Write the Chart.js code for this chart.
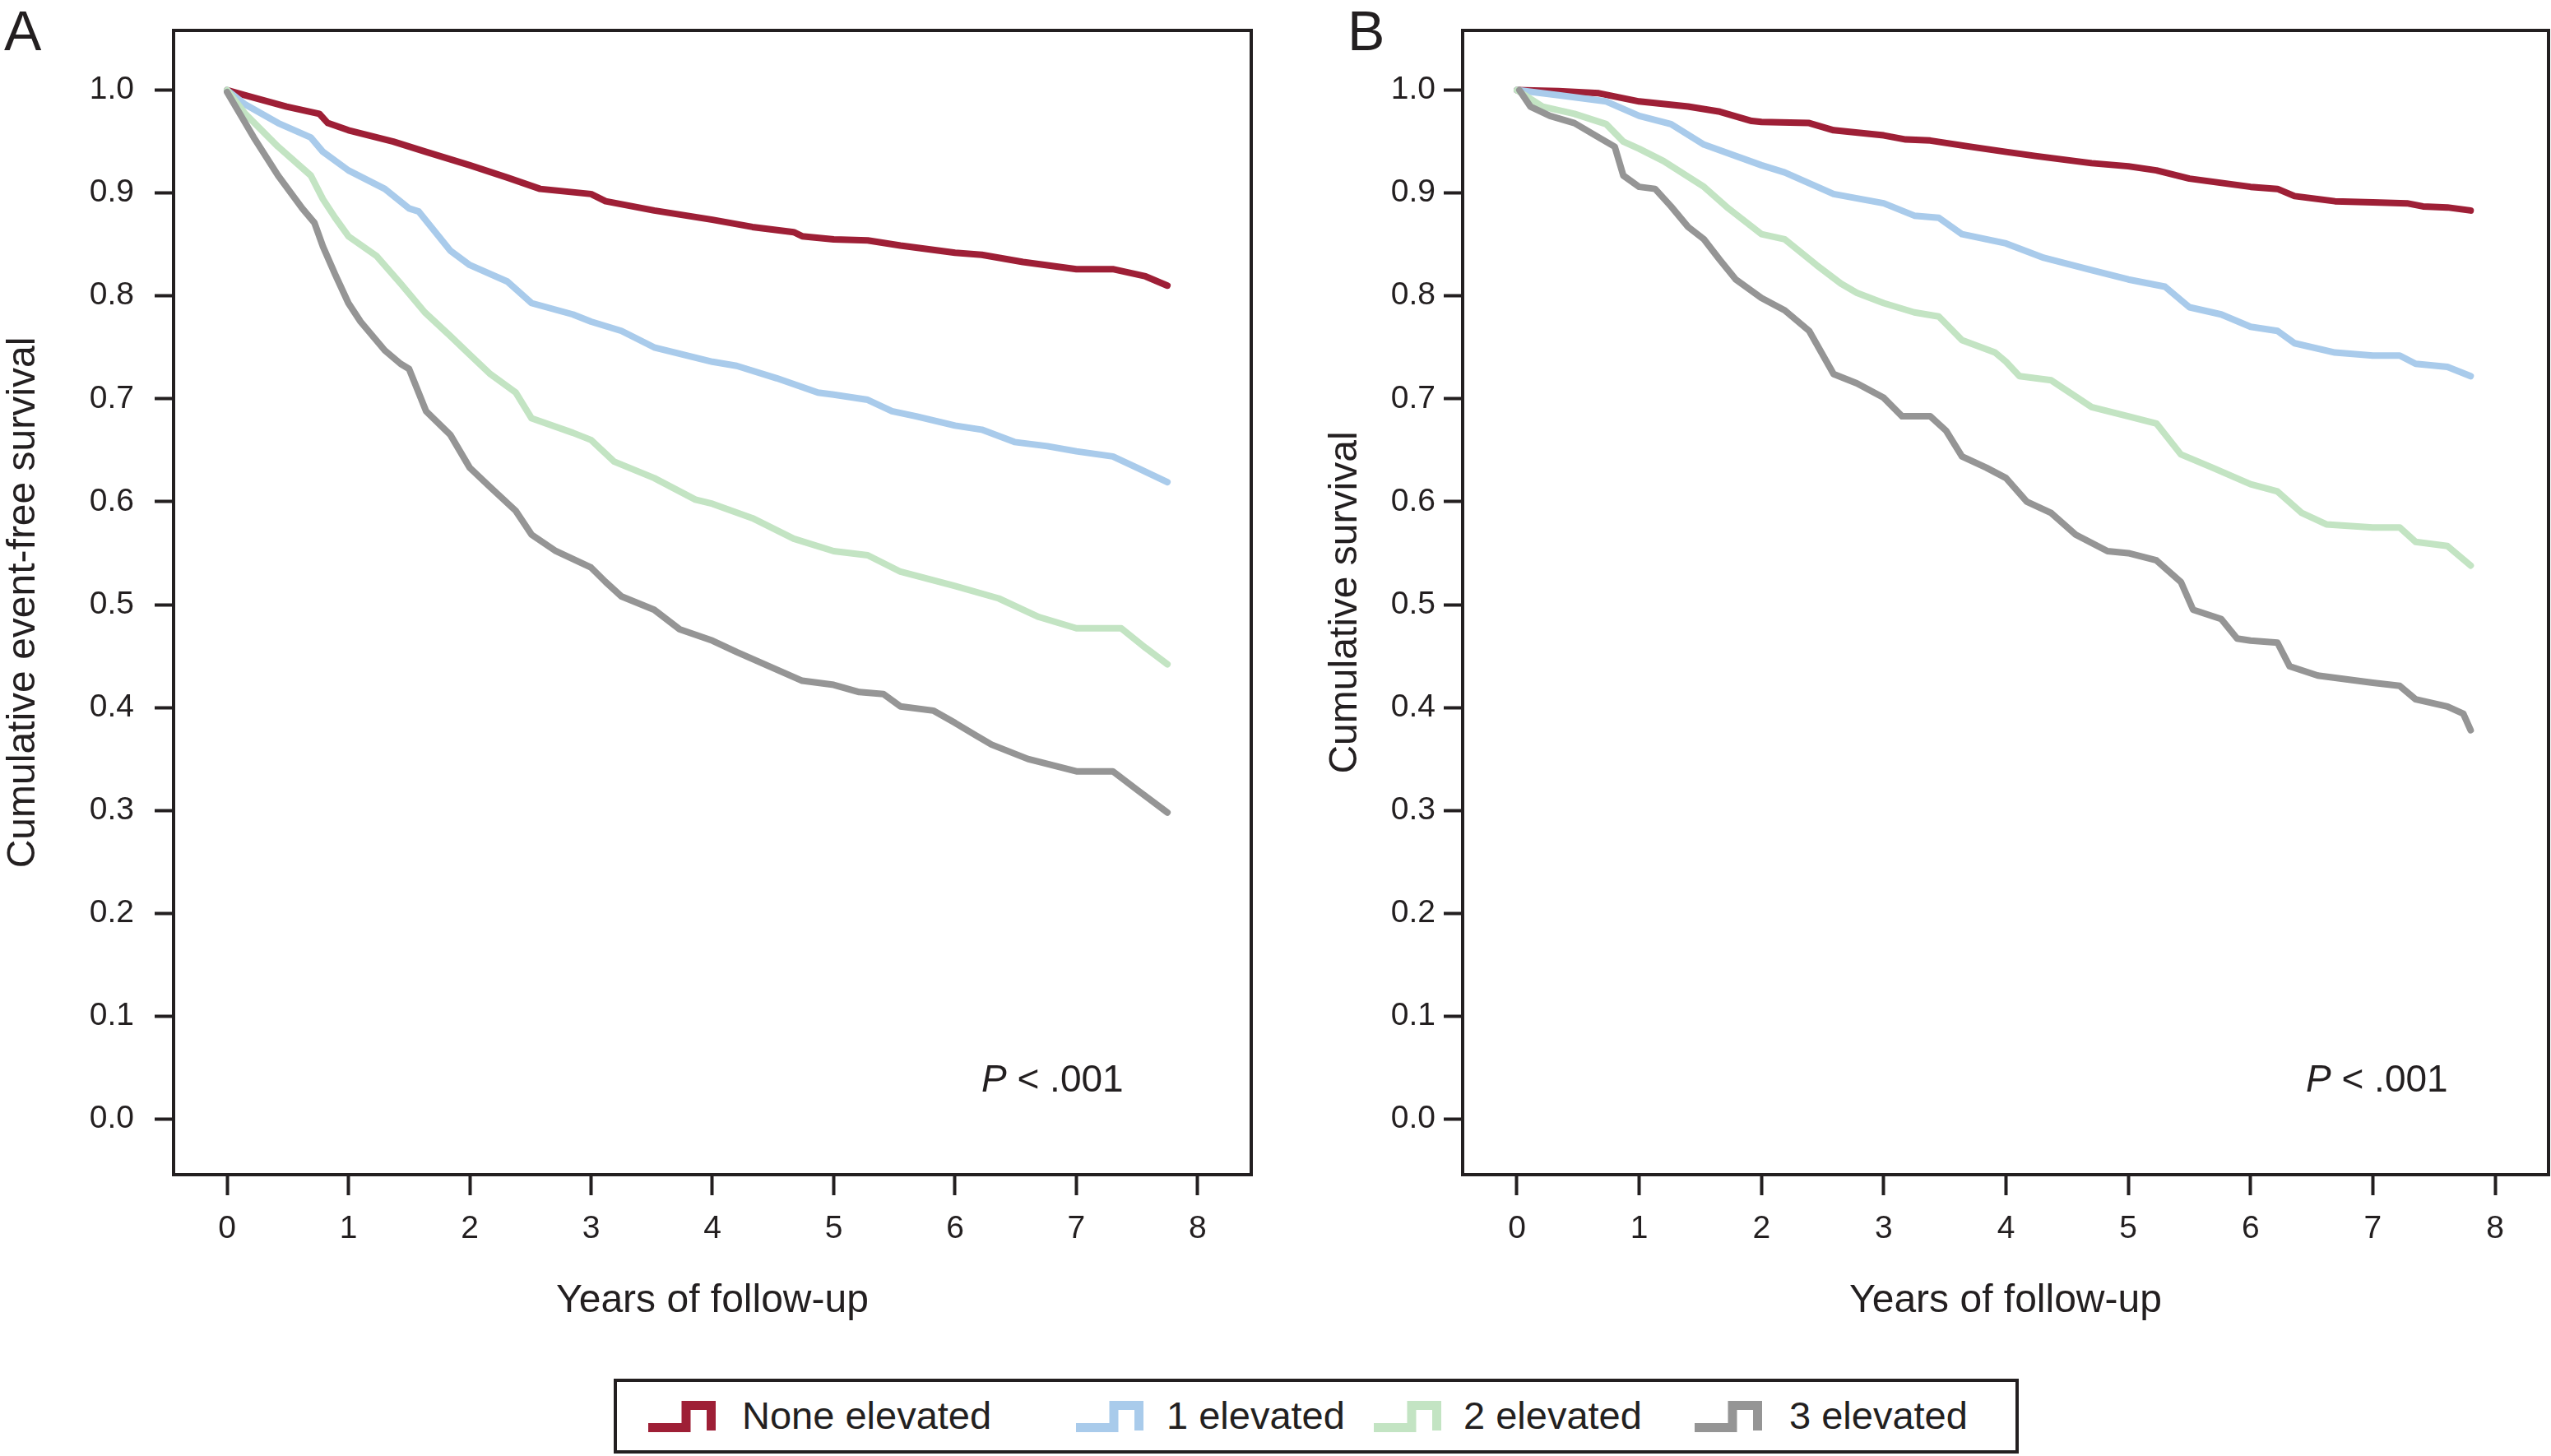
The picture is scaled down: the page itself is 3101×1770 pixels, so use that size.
<!DOCTYPE html>
<html>
<head>
<meta charset="utf-8">
<script src="https://cdn.jsdelivr.net/npm/chart.js@4.4.1/dist/chart.umd.min.js"></script>
<style>
  body { margin: 0; background: #fff; }
  #wrap { position: relative; width: 3101px; height: 1770px; font-family: "Liberation Sans", Arial, sans-serif; color: #231f20; }
  canvas { position: absolute; top: 0; }
  #legend { position: absolute; left: 746px; top: 1676px; width: 1708px; height: 91px; border: 4px solid #231f20; box-sizing: border-box; }
  #legend .ico { position: absolute; top: 23px; width: 82px; height: 38px; }
  #legend .txt { position: absolute; top: 13px; font-size: 47px; line-height: 56px; white-space: nowrap; }
</style>
</head>
<body>
<div id="wrap">
  <canvas id="chartA" width="1550" height="1640" style="left:0"></canvas>
  <canvas id="chartB" width="1541" height="1640" style="left:1560px"></canvas>
  <div id="legend"></div>
</div>
<script>
/* global Chart */
const groups = ["None elevated", "1 elevated", "2 elevated", "3 elevated"];
const xTicks = [0, 1, 2, 3, 4, 5, 6, 7, 8];
const xTickLabels = ["0", "1", "2", "3", "4", "5", "6", "7", "8"];
const yTicks = [0, 0.1, 0.2, 0.3, 0.4, 0.5, 0.6, 0.7, 0.8, 0.9, 1.0];
const yTickLabels = ["0.0", "0.1", "0.2", "0.3", "0.4", "0.5", "0.6", "0.7", "0.8", "0.9", "1.0"];

// Panel A: cumulative event-free survival
const aNoneYears = [0, 0.15, 0.49, 0.76, 0.83, 1.0, 1.37, 1.64, 2.0, 2.31, 2.58, 3.0, 3.12, 3.52, 4.0, 4.33, 4.67, 4.74, 5.0, 5.28, 5.55, 6.0, 6.22, 6.56, 7.0, 7.3, 7.57, 7.75];
const aNoneSurv = [1.0, 0.995, 0.984, 0.977, 0.968, 0.961, 0.95, 0.94, 0.927, 0.915, 0.904, 0.899, 0.892, 0.883, 0.874, 0.867, 0.862, 0.858, 0.855, 0.854, 0.849, 0.842, 0.84, 0.833, 0.826, 0.826, 0.819, 0.81];
const aOneYears = [0, 0.15, 0.42, 0.69, 0.79, 1.0, 1.3, 1.5, 1.58, 1.84, 2.0, 2.31, 2.51, 2.85, 3.0, 3.25, 3.52, 4.0, 4.2, 4.53, 4.87, 5.0, 5.28, 5.48, 5.68, 6.0, 6.22, 6.49, 6.76, 7.0, 7.3, 7.5, 7.75];
const aOneSurv = [1.0, 0.986, 0.968, 0.954, 0.94, 0.922, 0.904, 0.885, 0.882, 0.844, 0.83, 0.814, 0.793, 0.782, 0.775, 0.766, 0.75, 0.736, 0.732, 0.72, 0.706, 0.704, 0.699, 0.688, 0.683, 0.674, 0.67, 0.658, 0.654, 0.649, 0.644, 0.633, 0.619];
const aTwoYears = [0, 0.15, 0.42, 0.69, 0.79, 0.89, 1.0, 1.23, 1.43, 1.63, 1.84, 2.0, 2.17, 2.38, 2.51, 2.85, 3.0, 3.19, 3.52, 3.86, 4.0, 4.33, 4.67, 5.0, 5.28, 5.55, 6.0, 6.36, 6.69, 7.0, 7.37, 7.57, 7.75];
const aTwoSurv = [1.0, 0.977, 0.945, 0.917, 0.894, 0.876, 0.858, 0.839, 0.812, 0.784, 0.761, 0.743, 0.724, 0.706, 0.681, 0.667, 0.66, 0.639, 0.623, 0.602, 0.598, 0.584, 0.564, 0.552, 0.548, 0.532, 0.518, 0.506, 0.488, 0.477, 0.477, 0.458, 0.442];
const aThreeYears = [0, 0.08, 0.22, 0.42, 0.62, 0.72, 0.79, 0.89, 1.0, 1.1, 1.3, 1.43, 1.5, 1.64, 1.84, 2.0, 2.17, 2.38, 2.51, 2.71, 3.0, 3.12, 3.25, 3.52, 3.73, 4.0, 4.2, 4.47, 4.74, 5.0, 5.21, 5.41, 5.55, 5.82, 6.0, 6.17, 6.3, 6.6, 7.0, 7.3, 7.5, 7.75];
const aThreeSurv = [0.998, 0.982, 0.954, 0.917, 0.885, 0.871, 0.848, 0.821, 0.793, 0.775, 0.747, 0.734, 0.729, 0.688, 0.665, 0.633, 0.614, 0.591, 0.568, 0.552, 0.536, 0.522, 0.508, 0.495, 0.476, 0.465, 0.454, 0.44, 0.426, 0.422, 0.415, 0.413, 0.401, 0.397, 0.385, 0.373, 0.364, 0.35, 0.338, 0.338, 0.32, 0.298];

// Panel B: cumulative survival
const bNoneYears = [0, 0.34, 0.67, 1.0, 1.4, 1.66, 1.92, 2.0, 2.39, 2.59, 3.0, 3.18, 3.38, 3.71, 4.0, 4.24, 4.7, 5.0, 5.23, 5.5, 6.0, 6.22, 6.36, 6.69, 7.0, 7.28, 7.41, 7.61, 7.8];
const bNoneSurv = [1.0, 0.999, 0.997, 0.989, 0.984, 0.979, 0.97, 0.969, 0.968, 0.961, 0.956, 0.952, 0.951, 0.945, 0.94, 0.936, 0.929, 0.926, 0.922, 0.914, 0.906, 0.904, 0.897, 0.892, 0.891, 0.89, 0.887, 0.886, 0.883];
const bOneYears = [0, 0.34, 0.73, 1.0, 1.26, 1.53, 2.0, 2.19, 2.59, 3.0, 3.25, 3.45, 3.64, 4.0, 4.31, 4.7, 5.0, 5.3, 5.5, 5.76, 6.0, 6.22, 6.36, 6.69, 7.0, 7.22, 7.35, 7.61, 7.8];
const bOneSurv = [1.0, 0.995, 0.989, 0.975, 0.967, 0.947, 0.927, 0.92, 0.899, 0.89, 0.878, 0.876, 0.86, 0.851, 0.837, 0.825, 0.816, 0.809, 0.789, 0.782, 0.77, 0.766, 0.754, 0.745, 0.742, 0.742, 0.734, 0.731, 0.722];
const bTwoYears = [0, 0.21, 0.47, 0.73, 0.87, 1.0, 1.2, 1.53, 1.73, 2.0, 2.19, 2.45, 2.65, 2.78, 3.0, 3.25, 3.45, 3.64, 3.91, 4.0, 4.11, 4.37, 4.7, 5.0, 5.23, 5.43, 5.69, 6.0, 6.22, 6.42, 6.62, 7.0, 7.22, 7.35, 7.61, 7.8];
const bTwoSurv = [1.0, 0.984, 0.977, 0.967, 0.95, 0.943, 0.931, 0.906, 0.885, 0.86, 0.855, 0.83, 0.812, 0.803, 0.793, 0.784, 0.78, 0.757, 0.745, 0.736, 0.722, 0.718, 0.692, 0.683, 0.676, 0.646, 0.633, 0.617, 0.61, 0.589, 0.578, 0.575, 0.575, 0.561, 0.557, 0.538];
const bThreeYears = [0.02, 0.11, 0.27, 0.47, 0.67, 0.8, 0.87, 1.0, 1.13, 1.26, 1.4, 1.53, 1.66, 1.79, 2.0, 2.19, 2.39, 2.59, 2.78, 3.0, 3.15, 3.38, 3.51, 3.64, 3.84, 4.0, 4.17, 4.37, 4.57, 4.83, 5.0, 5.23, 5.43, 5.53, 5.76, 5.89, 6.0, 6.22, 6.32, 6.55, 7.0, 7.22, 7.35, 7.61, 7.74, 7.8];
const bThreeSurv = [1.0, 0.984, 0.975, 0.968, 0.954, 0.945, 0.917, 0.906, 0.904, 0.887, 0.867, 0.855, 0.835, 0.816, 0.798, 0.786, 0.766, 0.724, 0.715, 0.701, 0.683, 0.683, 0.669, 0.644, 0.633, 0.623, 0.6, 0.589, 0.568, 0.552, 0.55, 0.543, 0.522, 0.495, 0.486, 0.467, 0.465, 0.463, 0.44, 0.431, 0.424, 0.421, 0.408, 0.401, 0.394, 0.378];

const FONT = '"Liberation Sans", Arial, sans-serif';
const INK = "#231f20";
const colors = ["#9e1f36", "#a9cbeb", "#c3e4c3", "#959595"];

const $ = (id) => document.getElementById(id);

// panel letter, P value and the closed frame round the plot area
const panelText = {
  id: "panelText",
  afterDraw(chart, args, opts) {
    const ctx = chart.ctx;
    const a = chart.chartArea;
    ctx.save();
    ctx.fillStyle = INK;
    ctx.textAlign = "left";
    ctx.textBaseline = "alphabetic";
    ctx.font = `68px ${FONT}`;
    ctx.fillText(opts.letter, opts.letterX, 61);
    ctx.font = `italic 46px ${FONT}`;
    ctx.fillText("P", opts.pX, 1327);
    const w = ctx.measureText("P").width;
    ctx.font = `46px ${FONT}`;
    ctx.fillText(" < .001", opts.pX + w, 1327);
    ctx.strokeStyle = INK;
    ctx.lineWidth = 4;
    ctx.strokeRect(a.left, a.top, a.right - a.left, a.bottom - a.top);
    ctx.restore();
  },
};

function makePanel(id, p) {
  const datasets = groups.map((g, i) => ({
    label: g,
    data: p.years[i].map((t, k) => ({ x: t, y: p.surv[i][k] })),
    borderColor: colors[i],
    borderWidth: 8,
    pointRadius: 0,
    tension: 0,
    fill: false,
    order: 3 - i, // grey drawn on top
    borderJoinStyle: "round",
    borderCapStyle: "round",
  }));

  return new Chart($(id), {
    type: "line",
    data: { datasets },
    options: {
      responsive: false,
      animation: false,
      events: [],
      layout: { padding: { top: 37, left: 0, right: p.padRight, bottom: 0 } },
      plugins: {
        legend: { display: false },
        tooltip: { enabled: false },
        panelText: { letter: p.letter, letterX: p.letterX, pX: p.pX },
      },
      scales: {
        x: {
          type: "linear",
          min: p.xMin,
          max: p.xMax,
          afterFit: (s) => { s.height = 212; },
          afterBuildTicks: (s) => { s.ticks = xTicks.map((v) => ({ value: v })); },
          grid: { drawOnChartArea: false, tickLength: 25, tickWidth: 4, tickColor: INK },
          border: { display: false },
          ticks: {
            font: { family: FONT, size: 39 },
            color: INK,
            padding: 18,
            maxRotation: 0,
            callback: (v, i) => xTickLabels[i],
          },
          title: {
            display: true,
            text: "Years of follow-up",
            font: { family: FONT, size: 48 },
            color: INK,
            padding: { top: 0, bottom: 29 },
          },
        },
        y: {
          type: "linear",
          min: -0.054,
          max: 1.058,
          afterFit: (s) => { s.width = p.yWidth; },
          afterBuildTicks: (s) => { s.ticks = yTicks.map((v) => ({ value: v })); },
          grid: { drawOnChartArea: false, tickLength: 23, tickWidth: 4, tickColor: INK },
          border: { display: false },
          ticks: {
            // small lineHeight keeps the label padding from pushing the plot top down
            font: { family: FONT, size: 39, lineHeight: 0.5 },
            color: INK,
            padding: p.yPad,
            callback: (v, i) => yTickLabels[i],
          },
          title: {
            display: true,
            text: p.yTitle,
            font: { family: FONT, size: 48 },
            color: INK,
            padding: { top: p.yTitlePad, bottom: 0 },
          },
        },
      },
    },
    plugins: [panelText],
  });
}

function renderLegend() {
  const wrap = $("legend");
  const icoLeft = [38, 558, 920, 1310];
  const txtLeft = [152, 668, 1029, 1425];
  groups.forEach((g, i) => {
    const ns = "http://www.w3.org/2000/svg";
    const svg = document.createElementNS(ns, "svg");
    svg.setAttribute("class", "ico");
    svg.setAttribute("viewBox", "0 0 82 38");
    svg.style.left = icoLeft[i] + "px";
    const path = document.createElementNS(ns, "path");
    path.setAttribute("d", "M0 32.5 H46 V5.5 H76.5 V36");
    path.setAttribute("fill", "none");
    path.setAttribute("stroke", colors[i]);
    path.setAttribute("stroke-width", "11");
    svg.appendChild(path);
    wrap.appendChild(svg);

    const t = document.createElement("span");
    t.className = "txt";
    t.style.left = txtLeft[i] + "px";
    t.textContent = g;
    wrap.appendChild(t);
  });
}

makePanel("chartA", {
  years: [aNoneYears, aOneYears, aTwoYears, aThreeYears],
  surv: [aNoneSurv, aOneSurv, aTwoSurv, aThreeSurv],
  xMin: -0.441, xMax: 8.441,
  padRight: 29, yWidth: 211, yPad: 25, yTitlePad: 0,
  yTitle: "Cumulative event-free survival",
  letter: "A", letterX: 5, pX: 1193,
});

makePanel("chartB", {
  years: [bNoneYears, bOneYears, bTwoYears, bThreeYears],
  surv: [bNoneSurv, bOneSurv, bTwoSurv, bThreeSurv],
  xMin: -0.444, xMax: 8.437,
  padRight: 3, yWidth: 218, yPad: 10, yTitlePad: 47,
  yTitle: "Cumulative survival",
  letter: "B", letterX: 78, pX: 1243,
});

renderLegend();
</script>
</body>
</html>
